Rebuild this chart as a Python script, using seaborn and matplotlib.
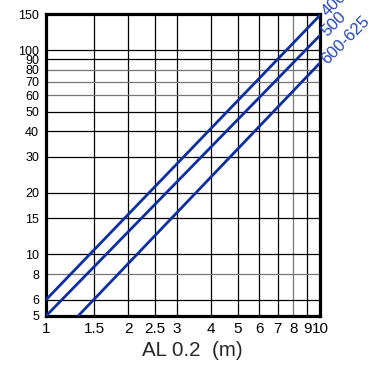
import matplotlib
matplotlib.use("Agg")
import matplotlib.pyplot as plt
import seaborn as sns
import pandas as pd

# Line series on a log-log grid: endpoints of each straight line
series = ["400", "500", "600-625"]
x_start = [1.0, 1.0, 1.31]
x_end = [10.0, 10.0, 10.0]
y_start = [6.0, 5.0, 5.0]
y_end = [148.0, 118.0, 86.5]

x_ticks = [1, 1.5, 2, 2.5, 3, 4, 5, 6, 7, 8, 9, 10]
x_tick_labels = ["1", "1.5", "2", "2.5", "3", "4", "5", "6", "7", "8", "9", "10"]
y_ticks = [5, 6, 8, 10, 15, 20, 30, 40, 50, 60, 70, 80, 90, 100, 150]
y_tick_labels = ["5", "6", "8", "10", "15", "20", "30", "40", "50", "60",
                 "70", "80", "90", "100", "150"]
x_label = "AL 0.2  (m)"

rows = []
for name, x0, x1, y0, y1 in zip(series, x_start, x_end, y_start, y_end):
    rows.append({"series": name, "AL": x0, "value": y0})
    rows.append({"series": name, "AL": x1, "value": y1})
df = pd.DataFrame(rows)

sns.set_style("white")
plt.rcParams["font.family"] = ["Liberation Sans", "DejaVu Sans"]

LINE_BLUE = "#0d2fa3"
TEXT_BLUE = "#2446bb"

fig = plt.figure(figsize=(3.71, 3.70), dpi=100)
ax = fig.add_axes([0.124, 0.146, 0.7385, 0.816])

ax.set_xscale("log")
ax.set_yscale("log")
ax.set_xlim(1, 10)
ax.set_ylim(5, 150)

# grid lines
gray_x = {8}
gray_y = {8, 60, 70, 80}
for xv in x_ticks[1:-1]:
    ax.axvline(xv, color="#777777" if xv in gray_x else "black", lw=0.9, zorder=1)
for yv in y_ticks[1:-1]:
    ax.axhline(yv, color="#777777" if yv in gray_y else "black", lw=0.9, zorder=1)

sns.lineplot(data=df, x="AL", y="value", hue="series",
             palette=[LINE_BLUE] * len(series), legend=False,
             linewidth=2.0, ax=ax, zorder=3, estimator=None, sort=False)

ax.minorticks_off()
ax.set_xticks(x_ticks)
ax.set_xticklabels(x_tick_labels, fontsize=11)
ax.set_yticks(y_ticks)
ax.set_yticklabels(y_tick_labels, fontsize=9)
ax.minorticks_off()
ax.tick_params(axis="both", length=0, colors="black")
ax.tick_params(axis="x", pad=4)
ax.tick_params(axis="y", pad=5)

ax.set_xlabel(x_label, fontsize=14.8, va="top")
ax.xaxis.set_label_coords(0.535, -0.082)
ax.set_ylabel("")

for sp in ax.spines.values():
    sp.set_visible(True)
    sp.set_color("black")
    sp.set_linewidth(2.3)

# rotated series labels at the line ends
for name, xe, ye in zip(series, x_end, y_end):
    ax.annotate(name, xy=(xe, ye), xytext=(7, -3), textcoords="offset points",
                rotation=45, rotation_mode="anchor", ha="left", va="bottom",
                color=TEXT_BLUE, fontsize=12, annotation_clip=False)

fig.savefig("out.png", dpi=100)
